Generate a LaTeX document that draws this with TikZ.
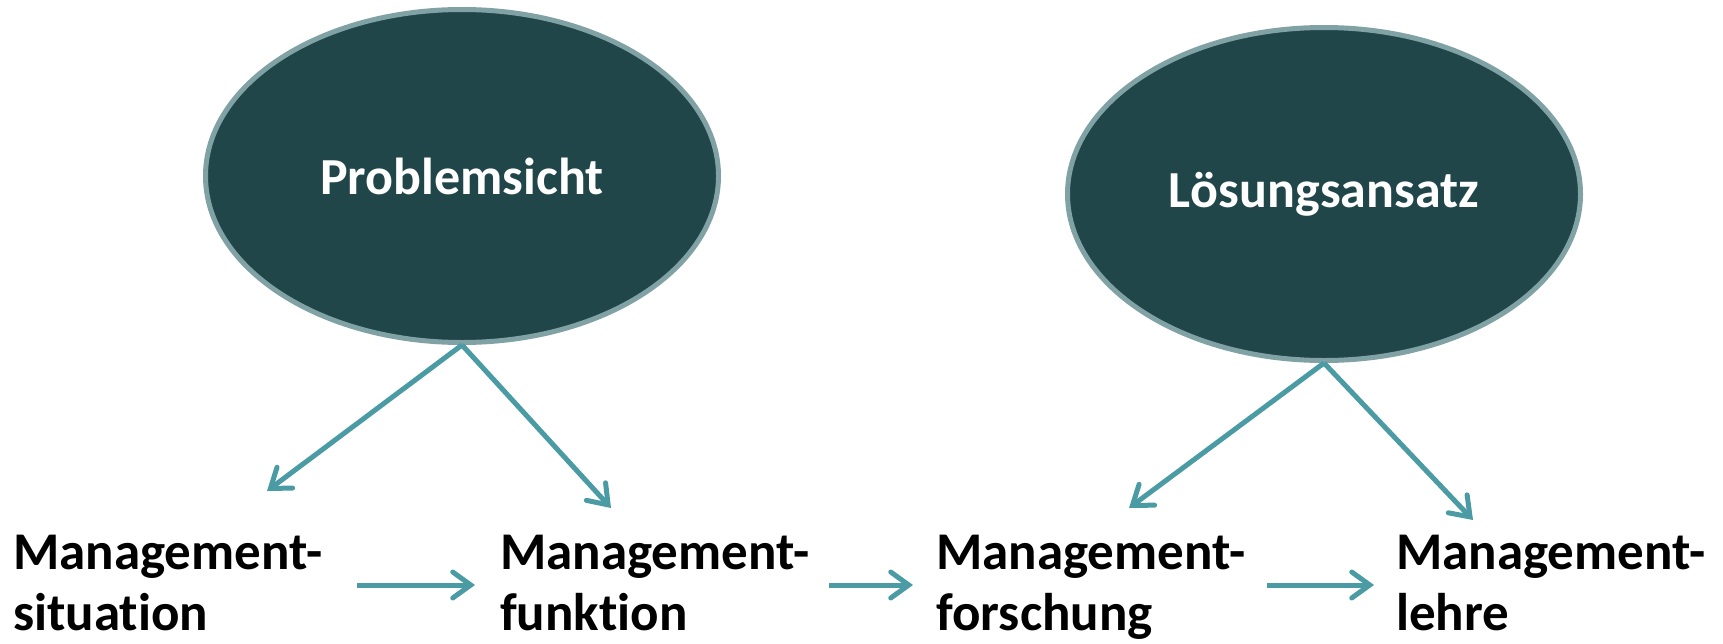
\documentclass[tikz,border=0pt]{standalone}
\usepackage{fontspec}
\setmainfont[Ligatures=NoCommon]{Carlito}
\usetikzlibrary{shapes.geometric,arrows.meta,calc}
\definecolor{ellfill}{HTML}{20464A}
\definecolor{ellline}{HTML}{80A2A5}
\definecolor{arrcol}{HTML}{4A9BA3}
\tikzset{
  bubble/.style={ellipse, fill=ellfill, draw=ellline, line width=5pt,
    minimum width=513pt, minimum height=333pt, inner sep=0pt,
    text=white, font=\fontsize{52}{60}\selectfont\bfseries},
  term/.style={anchor=north west, inner sep=0pt, align=left,
    font=\fontsize{53}{61}\selectfont\bfseries},
  arr/.style={draw=arrcol, line width=5pt,
    -{Straight Barb[length=18pt,width=26pt,line cap=round]}},
}
\begin{document}
\begin{tikzpicture}[x=1pt,y=-1pt]
\useasboundingbox (0,0) rectangle (1723,643);
\node[bubble] (e1) at (462,176) {Problemsicht};
\node[bubble] (e2) at (1324,194) {Lösungsansatz};
\node[term] (a) at (13,535) {Management-\\situation};
\node[term] (b) at (500,535) {Management-\\funktion};
\node[term] (c) at (936,535) {Management-\\forschung};
\node[term] (d) at (1396,535) {Management-\\lehre};
\coordinate (r) at (0,585);
\coordinate (t1) at (267,491);
\coordinate (t2) at (611,508);
\coordinate (t3) at (1129,508);
\coordinate (t4) at (1473,520);
\draw[arr] (e1.south) -- (t1);
\draw[arr] (e1.south) -- (t2);
\draw[arr] (e2.south) -- (t3);
\draw[arr] (e2.south) -- (t4);
\draw[arr, shorten <=34pt, shorten >=25pt] (a.east |- r) -- (b.west |- r);
\draw[arr, shorten <=19pt, shorten >=23pt] (b.east |- r) -- (c.west |- r);
\draw[arr, shorten <=21pt, shorten >=22pt] (c.east |- r) -- (d.west |- r);
\end{tikzpicture}
\end{document}
